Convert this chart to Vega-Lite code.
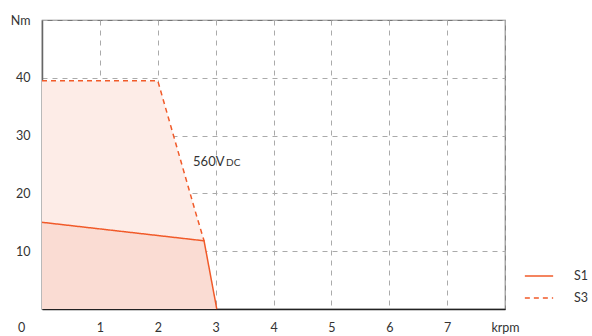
{
  "$schema": "https://vega.github.io/schema/vega-lite/v6.json",
  "width": 463,
  "height": 289,
  "autosize": {"type": "none"},
  "padding": {"left": 42, "top": 20, "right": 87, "bottom": 27},
  "background": "white",
  "config": {
    "view": {"stroke": "#777", "strokeWidth": 1.2},
    "font": "Lato",
    "axis": {
      "labelFont": "Lato",
      "labelFontSize": 12.5,
      "labelColor": "#333",
      "labelFlush": false,
      "ticks": false,
      "grid": true,
      "gridColor": "#aaa",
      "gridDash": [5, 5],
      "gridWidth": 1,
      "title": null,
      "format": "d"
    }
  },
  "layer": [
    {
      "data": {"values": [
        {"x": 0, "y": 39.5},
        {"x": 2.0, "y": 39.5},
        {"x": 2.66, "y": 16.5},
        {"x": 2.8, "y": 11.8},
        {"x": 3.02, "y": 0}
      ]},
      "mark": {"type": "area", "color": "#fdece7", "opacity": 1},
      "encoding": {
        "x": {"field": "x", "type": "quantitative", "scale": {"domain": [0, 8]},
          "axis": {"values": [0, 1, 2, 3, 4, 5, 6, 7, 8], "format": "d", "labelExpr": "datum.value == 8 ? 'krpm' : datum.label", "labelPadding": 12, "domainColor": "#222", "domainWidth": 1.5,
            "labelOffset": {"condition": {"test": "datum.value == 0", "value": -21}, "value": 0}}},
        "y": {"field": "y", "type": "quantitative", "scale": {"domain": [0, 50]},
          "axis": {"values": [10, 20, 30, 40, 50], "format": "d", "labelExpr": "datum.value == 50 ? 'Nm' : datum.label", "labelPadding": 12, "domainColor": "#666", "domainWidth": 1.5}}
      }
    },
    {
      "data": {"values": [
        {"x": 0, "y": 15.0},
        {"x": 2.8, "y": 11.8},
        {"x": 3.02, "y": 0}
      ]},
      "mark": {"type": "area", "color": "#fadcd3", "opacity": 1},
      "encoding": {
        "x": {"field": "x", "type": "quantitative"},
        "y": {"field": "y", "type": "quantitative"}
      }
    },
    {
      "data": {"values": [
        {"series": "S1", "order": 1, "x": 0, "y": 15.0},
        {"series": "S1", "order": 2, "x": 2.8, "y": 11.8},
        {"series": "S1", "order": 3, "x": 3.02, "y": 0},
        {"series": "S3", "order": 1, "x": 0, "y": 39.5},
        {"series": "S3", "order": 2, "x": 2.0, "y": 39.5},
        {"series": "S3", "order": 3, "x": 2.66, "y": 16.5},
        {"series": "S3", "order": 4, "x": 2.8, "y": 11.8}
      ]},
      "mark": {"type": "line", "color": "#f15a29", "strokeWidth": 1.5},
      "encoding": {
        "x": {"field": "x", "type": "quantitative"},
        "y": {"field": "y", "type": "quantitative"},
        "order": {"field": "order", "type": "quantitative"},
        "detail": {"field": "series"},
        "strokeDash": {
          "field": "series", "type": "nominal",
          "scale": {"domain": ["S1", "S3"], "range": [[1, 0], [5, 4]]},
          "legend": {
            "orient": "none", "legendX": 482, "legendY": 241,
            "title": null, "symbolType": "stroke", "symbolSize": 800,
            "symbolStrokeWidth": 1.5, "symbolStrokeColor": "#f15a29",
            "labelFont": "Lato", "labelFontSize": 12.5, "labelColor": "#333",
            "labelOffset": 20, "rowPadding": 0
          }
        }
      }
    },
    {
      "data": {"values": [{"x": 2.61, "y": 25.4, "t": "560V"}]},
      "mark": {"type": "text", "align": "left", "baseline": "middle", "fontSize": 13, "font": "Lato", "color": "#333"},
      "encoding": {
        "x": {"field": "x", "type": "quantitative"},
        "y": {"field": "y", "type": "quantitative"},
        "text": {"field": "t"}
      }
    },
    {
      "data": {"values": [{"x": 3.18, "y": 25.2, "t": "DC"}]},
      "mark": {"type": "text", "align": "left", "baseline": "middle", "fontSize": 10, "font": "Lato", "color": "#333"},
      "encoding": {
        "x": {"field": "x", "type": "quantitative"},
        "y": {"field": "y", "type": "quantitative"},
        "text": {"field": "t"}
      }
    }
  ]
}
